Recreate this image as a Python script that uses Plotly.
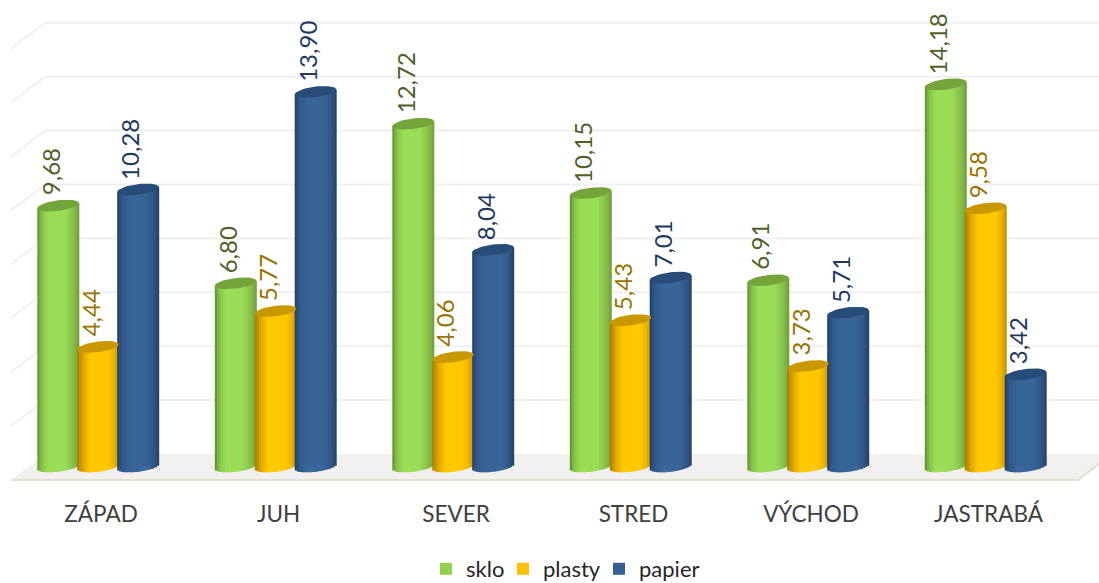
import plotly.graph_objects as go
import math

categories = ["ZÁPAD", "JUH", "SEVER", "STRED", "VÝCHOD", "JASTRABÁ"]
sklo = [9.68, 6.80, 12.72, 10.15, 6.91, 14.18]
plasty = [4.44, 5.77, 4.06, 5.43, 3.73, 9.58]
papier = [10.28, 13.90, 8.04, 7.01, 5.71, 3.42]
grid_values = [2, 4, 6, 8, 10, 12, 14, 16]

PX_X = 177.5
PX_Y = 26.95
FONT = "Lato"
W, H, PLOT_B = 1099, 590, 490
X0_PX, Y0_PX = 98.0, 466.5

series = [
    dict(name="sklo", values=sklo, legend="#92d050", label="#4f6228", cap="#74a53a", off=-0.225, leg="legend", legx=426,
         stops=[(-1, "#5c8a2e"), (-0.8, "#85c248"), (-0.45, "#9ade55"), (0.35, "#99dc55"), (0.8, "#84ba48"), (1, "#6f9c3c")]),
    dict(name="plasty", values=plasty, legend="#ffc000", label="#997300", cap="#c99700", off=0.0, leg="legend2", legx=503,
         stops=[(-1, "#a87d00"), (-0.7, "#e0a800"), (-0.35, "#ffc800"), (0.45, "#ffc800"), (0.8, "#e9b200"), (1, "#bb8c00")]),
    dict(name="papier", values=papier, legend="#376092", label="#1f3a5f", cap="#284c78", off=0.225, leg="legend3", legx=599,
         stops=[(-1, "#223f66"), (-0.75, "#31598a"), (-0.35, "#386598"), (0.4, "#386598"), (0.8, "#2f5585"), (1, "#233f63")]),
]

BAR_W = 41.5 / PX_X
N_STRIPS = 20
ELL_H = 5.3 / PX_Y
TILT = 2.5 / PX_Y


def rgb(h):
    return [int(h[i:i + 2], 16) for i in (1, 3, 5)]


def shade(stops, u):
    for (a, ca), (b, cb) in zip(stops, stops[1:]):
        if a <= u <= b:
            t = (u - a) / (b - a)
            c = [round(p + (q - p) * t) for p, q in zip(rgb(ca), rgb(cb))]
            return "rgb(%d,%d,%d)" % tuple(c)
    return stops[-1][1]


fig = go.Figure()
xs = list(range(len(categories)))
strip_w = BAR_W / N_STRIPS

for s in series:
    # base bar carries the series value and the legend entry
    fig.add_trace(go.Bar(x=xs, y=s["values"], name=s["name"], width=BAR_W * 0.9,
                         offset=s["off"] - BAR_W * 0.45, legend=s["leg"],
                         marker=dict(color=s["legend"], line=dict(width=0)),
                         hoverinfo="skip"))
    # cylinder shading, from the same values
    for k in range(N_STRIPS):
        u = -1 + (2 * k + 1) / N_STRIPS
        drop = ELL_H * math.sqrt(max(0, 1 - u * u)) - TILT * u
        bases = [-drop] * len(xs)
        heights = [v + TILT * u + drop for v in s["values"]]
        fig.add_trace(go.Bar(x=xs, y=heights, base=bases, showlegend=False,
                             width=strip_w * 1.25,
                             offset=s["off"] - BAR_W / 2 + k * strip_w,
                             marker=dict(color=shade(s["stops"], u), line=dict(width=0)),
                             hoverinfo="skip"))
    # elliptical caps
    for i, v in enumerate(s["values"]):
        cx = i + s["off"]
        angles = [2 * math.pi * a / 48 for a in range(49)]
        fig.add_trace(go.Scatter(
            x=[cx + BAR_W / 2 * math.cos(a) for a in angles],
            y=[v + TILT * math.cos(a) + ELL_H * math.sin(a) for a in angles],
            mode="lines", fill="toself", fillcolor=s["cap"], line=dict(width=0),
            showlegend=False, hoverinfo="skip"))

annotations = []
for s in series:
    for i, v in enumerate(s["values"]):
        annotations.append(dict(
            x=i + s["off"], y=v, xref="x", yref="y", yanchor="bottom", xanchor="center",
            yshift=8, xshift=-8, text=f"{v:.2f}".replace(".", ","), textangle=-90, showarrow=False,
            font=dict(family=FONT, size=24, color=s["label"])))

BACK = 12.5 / PX_Y
FRONT = -13.5 / PX_Y
XL_F = (11 - X0_PX) / PX_X
XL_B = (45 - X0_PX) / PX_X
XR_F = (1078 - X0_PX) / PX_X
XR_B = (1112 - X0_PX) / PX_X

shapes = []
for g in grid_values:
    yb = g + BACK
    yf = g + FRONT
    shapes.append(dict(type="path", layer="below", xref="x", yref="y",
                       path=f"M {XL_F},{yf} L {XL_B},{yb} L {XR_B},{yb}",
                       line=dict(color="#f0f0f0", width=2)))
shapes.append(dict(type="path", layer="below", xref="x", yref="y",
                   path=f"M {XL_F},{FRONT} L {XL_B},{BACK} L {XR_B},{BACK} L {XR_F},{FRONT} Z",
                   fillcolor="#f1f0ee", line=dict(width=0)))
shapes.append(dict(type="path", layer="below", xref="x", yref="y",
                   path=f"M {XL_F},{FRONT} L {XR_F},{FRONT} L {XR_B},{BACK}",
                   line=dict(color="#e3e0d0", width=2)))

legend_common = dict(orientation="h", xanchor="left", yanchor="bottom", y=0,
                     font=dict(family=FONT, size=22, color="#262626"), bgcolor="rgba(0,0,0,0)")
legends = {s["leg"]: dict(legend_common, x=s["legx"] / W) for s in series}

fig.update_layout(
    width=W, height=H, autosize=False,
    margin=dict(l=0, r=0, t=0, b=0, pad=0),
    paper_bgcolor="white", plot_bgcolor="white",
    barmode="overlay",
    showlegend=True,
    xaxis=dict(range=[(0 - X0_PX) / PX_X, (W - X0_PX) / PX_X], tickmode="array", tickvals=xs,
               ticktext=categories, ticks="outside", ticklen=4, tickcolor="rgba(0,0,0,0)",
               ticklabelshift=3, showgrid=False, zeroline=False, showline=False,
               tickfont=dict(family=FONT, size=22.5, color="#404040")),
    yaxis=dict(domain=[(H - PLOT_B) / H, 1], range=[-(PLOT_B - Y0_PX) / PX_Y, Y0_PX / PX_Y],
               visible=False, showgrid=False, zeroline=False),
    shapes=shapes, annotations=annotations,
    **legends,
)

fig.write_html("out.html", config=dict(displayModeBar=False),
               post_script="document.body.style.margin='0';document.documentElement.style.overflow='hidden';document.body.style.overflow='hidden';")
